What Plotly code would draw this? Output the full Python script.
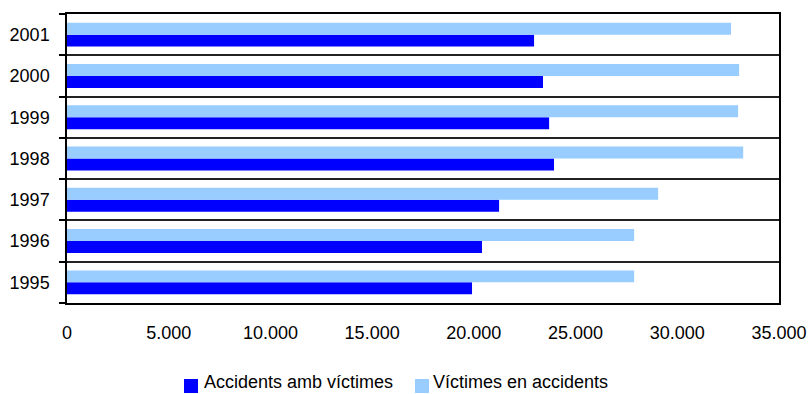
import plotly.graph_objects as go

years = ["1995", "1996", "1997", "1998", "1999", "2000", "2001"]
accidents = [19910, 20400, 21240, 23940, 23700, 23400, 22960]
victims = [27880, 27880, 29060, 33240, 32990, 33040, 32640]
x_ticks = [0, 5000, 10000, 15000, 20000, 25000, 30000, 35000]
x_tick_text = ["0", "5.000", "10.000", "15.000", "20.000", "25.000", "30.000", "35.000"]
series_names = ["Accidents amb víctimes", "Víctimes en accidents"]
series_colors = ["#0000FF", "#99CCFF"]

font_family = "Liberation Sans, Arial, sans-serif"
W, H = 810, 394
ML, MR, MT, MB = 67, 31, 14, 91
plot_w = W - ML - MR
plot_h = H - MT - MB

fig = go.Figure()
for name, color, vals in zip(series_names, series_colors, [accidents, victims]):
    fig.add_trace(go.Bar(
        y=years, x=vals, orientation="h", name=name,
        marker=dict(color=color, line=dict(width=0)),
    ))

# hand-placed legend: square swatch followed by its label
def px_x(px):
    return (px - ML) / plot_w

def px_y(py):
    return (H - MB - py) / plot_h

legend_items = [(184, 203), (415, 432)]
shapes = []
annotations = []
for (sq_left, text_left), name, color in zip(legend_items, series_names, series_colors):
    shapes.append(dict(
        type="rect", xref="paper", yref="paper",
        x0=px_x(sq_left), x1=px_x(sq_left + 14),
        y0=px_y(393), y1=px_y(379),
        fillcolor=color, line=dict(width=0),
    ))
    annotations.append(dict(
        text=name, xref="paper", yref="paper",
        x=px_x(text_left), y=px_y(382.5), xanchor="left", yanchor="middle",
        showarrow=False, borderpad=0, font=dict(size=18, color="black"),
    ))

fig.update_layout(
    width=W, height=H,
    margin=dict(l=ML, r=MR, t=MT, b=MB),
    paper_bgcolor="white", plot_bgcolor="white",
    barmode="group", bargap=0.42, bargroupgap=0,
    font=dict(family=font_family, size=18, color="black"),
    showlegend=False,
    shapes=shapes, annotations=annotations,
)

fig.update_xaxes(
    range=[0, 35000], tickvals=x_ticks, ticktext=x_tick_text,
    showgrid=False, zeroline=False, automargin=False,
    showline=True, linecolor="black", linewidth=1.5, mirror=True,
    ticks="", ticklabelstandoff=13,
    tickfont=dict(size=18),
)
fig.update_yaxes(
    type="category", categoryorder="array", categoryarray=years,
    tickson="boundaries", ticks="outside", ticklen=6, tickcolor="black", tickwidth=1.5,
    showgrid=True, gridcolor="#222222", gridwidth=1.5, automargin=False,
    showline=True, linecolor="black", linewidth=1.5, mirror=True,
    ticklabelstandoff=12,
    tickfont=dict(size=18),
)

fig.write_html("out.html")
